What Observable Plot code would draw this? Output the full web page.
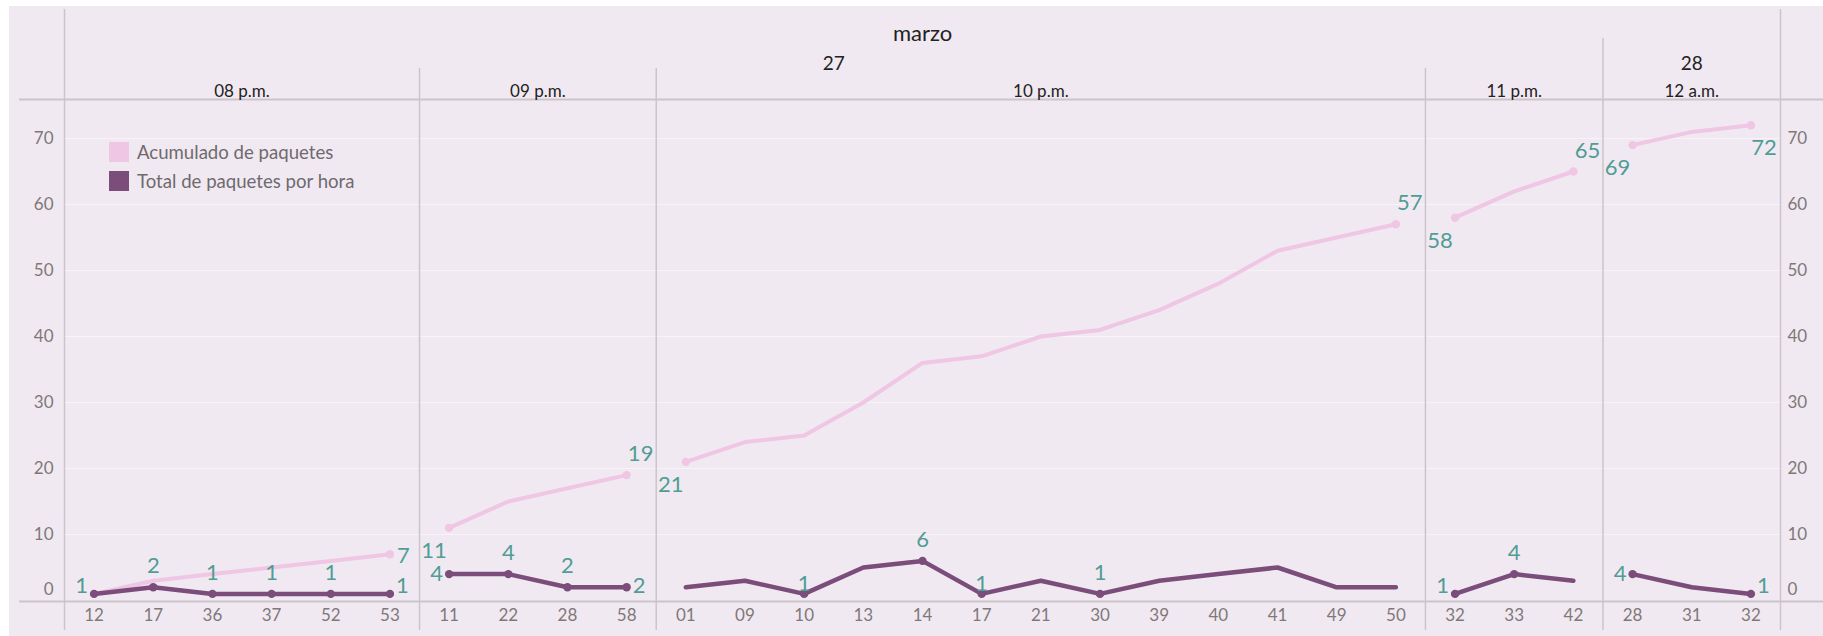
<!DOCTYPE html>
<html>
<head>
<meta charset="utf-8">
<script src="https://cdn.jsdelivr.net/npm/d3@7"></script>
<script src="https://cdn.jsdelivr.net/npm/@observablehq/plot@0.6"></script>
<style>
html, body { margin: 0; padding: 0; background: #ffffff; }
#wrap { position: absolute; left: 9px; top: 6px; width: 1814px; height: 630px; background: #f1e9f1; font-family: Lato, "Open Sans", sans-serif; }
#wrap svg { position: absolute; left: 0; top: 0; overflow: visible; }
.leg { position: absolute; left: 100px; display: flex; align-items: center; font-size: 18.6px; color: #6e6a6e; height: 20px; }
.sw { width: 20px; height: 20px; margin-right: 8px; }
</style>
</head>
<body>
<div id="wrap"></div>
<script>
// ---- data ----
const month = "marzo";
const hours = ["08 p.m.", "09 p.m.", "10 p.m.", "11 p.m.", "12 a.m."];
const hourDays = ["27", "27", "27", "27", "28"];
const pointHours = [
  "08 p.m.", "08 p.m.", "08 p.m.", "08 p.m.", "08 p.m.", "08 p.m.",
  "09 p.m.", "09 p.m.", "09 p.m.", "09 p.m.",
  "10 p.m.", "10 p.m.", "10 p.m.", "10 p.m.", "10 p.m.", "10 p.m.", "10 p.m.",
  "10 p.m.", "10 p.m.", "10 p.m.", "10 p.m.", "10 p.m.", "10 p.m.",
  "11 p.m.", "11 p.m.", "11 p.m.",
  "12 a.m.", "12 a.m.", "12 a.m."
];
const minutes = [
  "12", "17", "36", "37", "52", "53",
  "11", "22", "28", "58",
  "01", "09", "10", "13", "14", "17", "21", "30", "39", "40", "41", "49", "50",
  "32", "33", "42",
  "28", "31", "32"
];
const totalPerHour = [
  1, 2, 1, 1, 1, 1,
  4, 4, 2, 2,
  2, 3, 1, 5, 6, 1, 3, 1, 3, 4, 5, 2, 2,
  1, 4, 3,
  4, 2, 1
];
const cumulative = [
  1, 3, 4, 5, 6, 7,
  11, 15, 17, 19,
  21, 24, 25, 30, 36, 37, 40, 41, 44, 48, 53, 55, 57,
  58, 62, 65,
  69, 71, 72
];
const yTicks = [0, 10, 20, 30, 40, 50, 60, 70];
const seriesNames = ["Acumulado de paquetes", "Total de paquetes por hora"];

// ---- styles ----
const pinkC = "#efc6e3";
const purpleC = "#7a4d7b";
const labelC = "#4f9d95";
const lineC = "#cbc5cb";
const tickC = "#7f7878";
const headC = "#222222";
const FONT = "Lato, 'Open Sans', sans-serif";

// ---- derived tables ----
const rows = minutes.map((m, i) => ({i, hour: pointHours[i], minute: m, total: totalPerHour[i], cum: cumulative[i]}));
const panes = hours.map((h, k) => {
  const idx = rows.filter(r => r.hour === h).map(r => r.i);
  return {hour: h, day: hourDays[k], start: d3.min(idx), end: d3.max(idx)};
});
const days = Array.from(d3.group(panes, p => p.day), ([day, ps]) => ({day, start: d3.min(ps, p => p.start), end: d3.max(ps, p => p.end)}));
const dayBounds = days.slice(1).map(d => d.start - 0.5);
const hourBounds = panes.slice(1).map(p => p.start - 0.5).filter(b => !dayBounds.includes(b));
const xMin = -0.5, xMax = rows.length - 0.5;

const W = 1814, H = 630, mL = 55, mR = 43, mT = 93, mB = 35;
const pxPerUnit = 6.6;
const zeroPx = 594;
const yMin = -(H - mB - zeroPx) / pxPerUnit;
const yMax = (zeroPx - mT) / pxPerUnit;

// labels: total -> pane min/max; cumulative -> first/last of pane
const overrides = {
  "08 p.m.|53|cum": "rightLow",
  "12 a.m.|32|cum": "belowRight",
  "10 p.m.|10|total": "topNear",
  "10 p.m.|17|total": "topNear"
};
const labels = [];
const pinkDots = [];
const purpleDots = [];
panes.forEach(p => {
  const pr = rows.filter(r => r.hour === p.hour);
  const mn = d3.min(pr, r => r.total), mx = d3.max(pr, r => r.total);
  pr.forEach((r, k) => {
    if (r.total === mn || r.total === mx) {
      const pos = k === 0 ? "left" : k === pr.length - 1 ? "right" : "top";
      labels.push({...r, series: "total", value: r.total, pos: overrides[`${r.hour}|${r.minute}|total`] || pos});
      purpleDots.push(r);
    }
  });
  const first = pr[0], last = pr[pr.length - 1];
  pinkDots.push(first, last);
  if (first.cum !== first.total) labels.push({...first, series: "cum", value: first.cum, pos: "belowLeft"});
  labels.push({...last, series: "cum", value: last.cum, pos: overrides[`${last.hour}|${last.minute}|cum`] || "aboveRight"});
});
const posOpts = {
  left: {textAnchor: "end", dx: -6, dy: 0, clamp: true},
  right: {textAnchor: "start", dx: 6, dy: 0, clamp: true},
  top: {textAnchor: "middle", dx: 0, dy: -21},
  topNear: {textAnchor: "middle", dx: 0, dy: -10},
  belowLeft: {textAnchor: "middle", dx: -15, dy: 23},
  aboveRight: {textAnchor: "middle", dx: 14, dy: -21},
  rightLow: {textAnchor: "start", dx: 7, dy: 2},
  belowRight: {textAnchor: "middle", dx: 13, dy: 23}
};
const labelMarks = Object.entries(posOpts).map(([pos, o]) =>
  Plot.text(labels.filter(l => l.pos === pos), {
    x: "i",
    y: d => o.clamp ? Math.max(d.value, 2.2) : d.value,
    text: d => String(d.value),
    textAnchor: o.textAnchor, dx: o.dx, dy: o.dy,
    fill: labelC, fontSize: 22, fontFamily: FONT
  })
);

const chart = Plot.plot({
  width: W, height: H,
  marginLeft: mL, marginRight: mR, marginTop: mT, marginBottom: mB,
  style: {background: "transparent", fontFamily: FONT, overflow: "visible"},
  x: {domain: [xMin, xMax], axis: null},
  y: {domain: [yMin, yMax], axis: null},
  marks: [
    Plot.ruleY(yTicks.filter(t => t > 0), {stroke: "#ffffff", strokeOpacity: 0.45, strokeWidth: 1}),
    // frame and separator lines
    Plot.ruleX([xMin, xMax], {stroke: lineC, strokeWidth: 1.5, insetTop: -90, insetBottom: -29}),
    Plot.ruleX(dayBounds, {stroke: lineC, strokeWidth: 1.5, insetTop: -61, insetBottom: -29}),
    Plot.ruleX(hourBounds, {stroke: lineC, strokeWidth: 1.5, insetTop: -31, insetBottom: -29}),
    Plot.ruleY([yMax], {stroke: lineC, strokeWidth: 2, insetLeft: -45, insetRight: -mR}),
    Plot.ruleY([yMin], {stroke: lineC, strokeWidth: 2, insetLeft: -45, insetRight: -mR}),
    // headers
    Plot.text([month], {x: () => (xMin + xMax) / 2, text: d => d, frameAnchor: "top", dy: -74, fill: headC, fontSize: 22}),
    Plot.text(days, {x: d => (d.start + d.end) / 2, text: "day", frameAnchor: "top", dy: -43, fill: headC, fontSize: 19}),
    Plot.text(panes, {x: d => (d.start + d.end) / 2, text: "hour", frameAnchor: "top", dy: -15, fill: headC, fontSize: 17}),
    // axes
    Plot.text(rows, {x: "i", text: "minute", frameAnchor: "bottom", dy: 19, fill: tickC, fontSize: 17}),
    Plot.text(yTicks.filter(t => t > 0), {y: d => d, text: d => String(d), frameAnchor: "left", dx: -11, textAnchor: "end", fill: tickC, fontSize: 17}),
    Plot.text([0], {y: d => d, text: d => String(d), frameAnchor: "left", dx: -11, dy: -11, textAnchor: "end", fill: tickC, fontSize: 17}),
    Plot.text(yTicks.filter(t => t > 0), {y: d => d, text: d => String(d), frameAnchor: "right", dx: 7, textAnchor: "start", fill: tickC, fontSize: 17}),
    Plot.text([0], {y: d => d, text: d => String(d), frameAnchor: "right", dx: 7, dy: -11, textAnchor: "start", fill: tickC, fontSize: 17}),
    // series
    Plot.line(rows, {x: "i", y: "cum", z: "hour", stroke: pinkC, strokeWidth: 4, strokeLinecap: "round", strokeLinejoin: "round"}),
    Plot.dot(pinkDots, {x: "i", y: "cum", r: 4.2, fill: pinkC}),
    Plot.line(rows, {x: "i", y: "total", z: "hour", stroke: purpleC, strokeWidth: 4.5, strokeLinecap: "round", strokeLinejoin: "round"}),
    Plot.dot(purpleDots, {x: "i", y: "total", r: 4.2, fill: purpleC}),
    ...labelMarks
  ]
});

const wrap = document.getElementById("wrap");
wrap.appendChild(chart);
const legColors = [pinkC, purpleC];
const legTops = [136, 165];
seriesNames.forEach((name, k) => {
  const d = document.createElement("div");
  d.className = "leg";
  d.style.top = legTops[k] + "px";
  const sw = document.createElement("div");
  sw.className = "sw";
  sw.style.background = legColors[k];
  const t = document.createElement("span");
  t.textContent = name;
  d.appendChild(sw);
  d.appendChild(t);
  wrap.appendChild(d);
});
</script>
</body>
</html>
